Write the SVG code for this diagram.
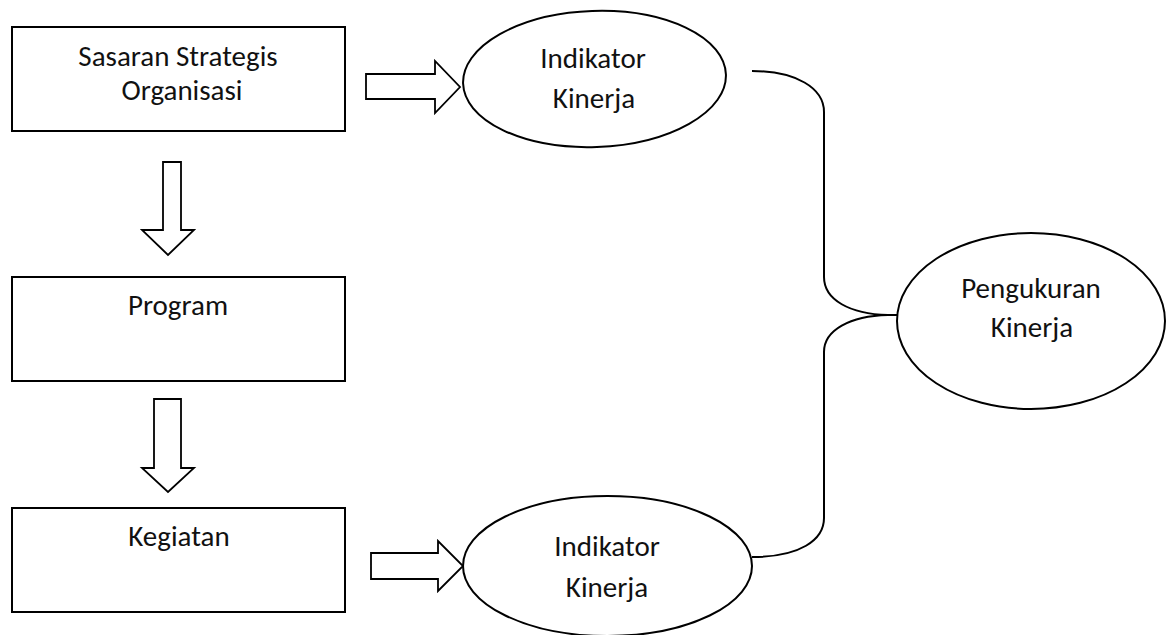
<svg xmlns="http://www.w3.org/2000/svg" width="1176" height="635" viewBox="0 0 1176 635">
<style>
.box{fill:#fff;stroke:#000;stroke-width:2}
.arr{fill:#fff;stroke:#000;stroke-width:1.8;stroke-linejoin:miter}
.conn{fill:none;stroke:#000;stroke-width:2}
text{font-family:Carlito,Lato,"Open Sans",sans-serif;font-size:29px;fill:#111;text-anchor:middle}
</style>
<rect width="1176" height="635" fill="#fff"/>
<g id="sasaran">
<rect class="box" x="12" y="27" width="333" height="104"/>
<text x="178" y="66">Sasaran Strategis</text>
<text x="182" y="100">Organisasi</text>
</g>
<g id="program">
<rect class="box" x="12" y="277" width="333" height="104"/>
<text x="178" y="315">Program</text>
</g>
<g id="kegiatan">
<rect class="box" x="12" y="508" width="333" height="104"/>
<text x="179" y="546">Kegiatan</text>
</g>
<g id="indikator1">
<ellipse class="box" cx="594.5" cy="79" rx="131.5" ry="68" transform="rotate(-2 594.5 79)"/>
<text x="593" y="68">Indikator</text>
<text x="594" y="108">Kinerja</text>
</g>
<g id="indikator2">
<ellipse class="box" cx="607.5" cy="566" rx="144.5" ry="70"/>
<text x="607" y="556">Indikator</text>
<text x="607" y="597">Kinerja</text>
</g>
<g id="pengukuran">
<ellipse class="box" cx="1031" cy="321" rx="134" ry="88"/>
<text x="1031" y="298">Pengukuran</text>
<text x="1032" y="337">Kinerja</text>
</g>
<g id="connectors">
<polygon class="arr" points="366,74 435,74 435,61 460,87 435,113 435,99 366,99"/>
<polygon class="arr" points="371,553 438,553 438,541 463,566 438,591 438,579 371,579"/>
<polygon class="arr" points="163,162 181,162 181,230 194,230 168,255 142,230 163,230"/>
<polygon class="arr" points="154,399 181,399 181,468 194,468 168,492 142,468 154,468"/>
<path class="conn" d="M752,71 C796,71 824,88 824,112 L824,277 C824,300 850,314 888,315 L897,315"/>
<path class="conn" d="M888,315 C850,316 824,330 824,352 L824,518 C824,540 800,557 752,557"/>
</g>
</svg>
